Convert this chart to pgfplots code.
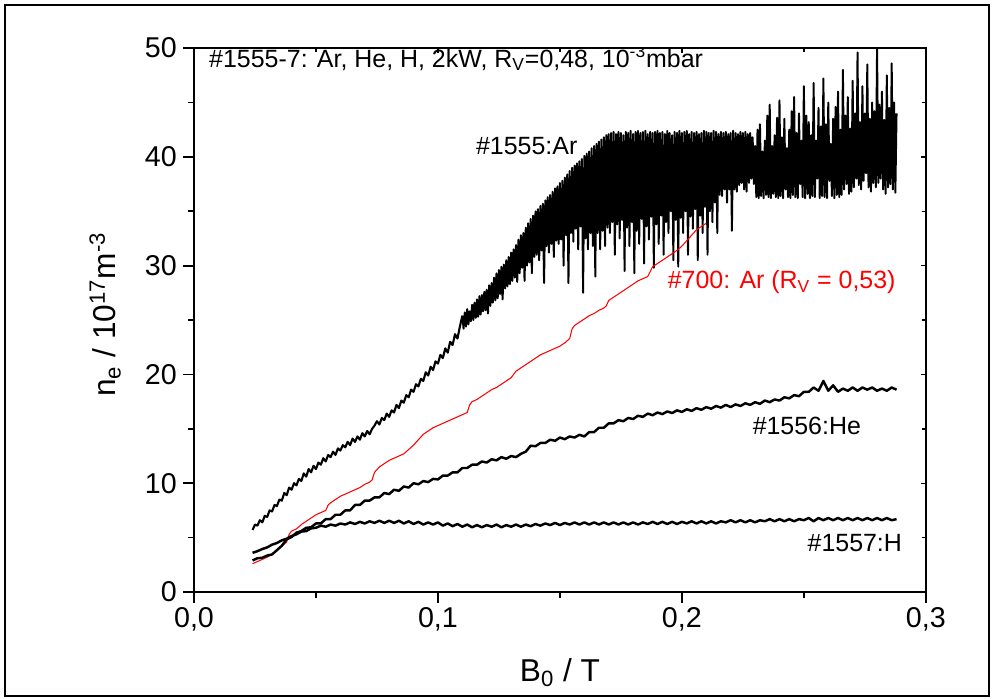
\documentclass[border=0pt]{standalone}
\usepackage{fontspec}
\setmainfont{Liberation Sans}
\usepackage{pgfplots}
\pgfplotsset{compat=1.18}
\usepackage{pgfplotstable}

\pgfplotstableread{
x y
0.024 5.7
0.025 6.2
0.026 6.1
0.027 6.6
0.028 6.4
0.029 7.0
0.030 6.9
0.031 7.5
0.032 7.4
0.033 8.0
0.034 7.9
0.035 8.5
0.036 8.4
0.037 9.1
0.038 8.9
0.039 9.6
0.040 9.4
0.041 10.0
0.042 9.8
0.043 10.4
0.044 10.2
0.045 10.9
0.046 10.6
0.047 11.3
0.048 11.0
0.049 11.6
0.050 11.3
0.051 11.9
0.052 11.7
0.053 12.3
0.054 12.0
0.055 12.6
0.056 12.4
0.057 12.9
0.058 12.6
0.059 13.2
0.060 13.0
0.061 13.5
0.062 13.3
0.063 13.8
0.064 13.5
0.065 14.1
0.066 13.8
0.067 14.3
0.068 14.0
0.069 14.6
0.070 14.3
0.071 14.8
0.072 14.5
0.073 15.0
0.074 15.3
0.075 15.7
0.076 15.4
0.077 16.0
0.078 15.8
0.079 16.4
0.080 16.1
0.081 16.7
0.082 16.5
0.083 17.2
0.084 16.9
0.085 17.6
0.086 17.4
0.087 18.1
0.088 17.9
0.089 18.6
0.090 18.4
0.091 19.1
0.092 18.9
0.093 19.6
0.094 19.4
0.095 20.2
0.096 19.9
0.097 20.7
0.098 20.4
0.099 21.2
0.100 21.0
0.101 21.8
0.102 21.5
0.103 22.4
0.104 22.0
0.105 23.0
0.106 22.7
0.107 23.7
0.108 23.3
0.109 24.4
0.1100 25.4
0.1105 24.2
0.1110 25.7
0.1115 24.4
0.1120 26.0
0.1125 24.6
0.1130 25.8
0.1135 24.9
0.1140 26.4
0.1145 25.0
0.1150 26.6
0.1155 25.2
0.1160 26.9
0.1165 25.3
0.1170 27.2
0.1175 25.5
0.1180 27.3
0.1185 25.8
0.1190 27.6
0.1195 25.9
0.1200 27.8
0.1205 25.6
0.1210 28.2
0.1215 26.3
0.1220 28.4
0.1225 26.6
0.1230 28.9
0.1235 26.8
0.1240 29.3
0.1245 27.0
0.1250 29.6
0.1255 27.4
0.1260 29.9
0.1265 26.9
0.1270 30.1
0.1275 27.9
0.1280 30.5
0.1285 28.1
0.1290 30.8
0.1295 28.3
0.1300 31.2
0.1305 28.6
0.1310 31.5
0.1315 28.9
0.1320 31.9
0.1325 28.5
0.1330 32.4
0.1335 29.3
0.1340 32.8
0.1345 29.8
0.1350 33.0
0.1355 28.6
0.1360 33.5
0.1365 30.0
0.1370 33.9
0.1375 30.3
0.1380 34.3
0.1385 29.3
0.1390 34.6
0.1395 30.8
0.1400 35.0
0.1405 31.0
0.1410 35.2
0.1415 30.5
0.1420 35.5
0.1425 31.4
0.1430 35.7
0.1435 28.4
0.1440 36.0
0.1445 31.8
0.1450 36.3
0.1455 31.2
0.1460 36.5
0.1465 32.0
0.1470 36.8
0.1475 30.8
0.1480 37.1
0.1485 32.3
0.1490 37.3
0.1495 32.0
0.1500 37.6
0.1505 32.4
0.1510 37.8
0.1515 30.0
0.1520 38.1
0.1525 32.8
0.1530 38.4
0.1535 28.4
0.1540 38.7
0.1545 33.0
0.1550 39.0
0.1555 32.2
0.1560 39.2
0.1565 33.4
0.1570 39.4
0.1575 31.5
0.1580 39.6
0.1585 33.6
0.1590 39.8
0.1595 27.5
0.1600 40.1
0.1605 32.5
0.1610 40.3
0.1615 31.5
0.1620 40.5
0.1625 33.0
0.1630 40.8
0.1635 31.8
0.1640 41.0
0.1645 29.0
0.1650 41.2
0.1655 33.0
0.1660 41.4
0.1665 31.5
0.1670 41.6
0.1675 33.2
0.1680 41.8
0.1685 31.8
0.1690 42.0
0.1695 33.5
0.1700 42.1
0.1705 33.0
0.1710 42.2
0.1715 34.0
0.1720 42.3
0.1725 31.0
0.1730 42.1
0.1735 33.8
0.1740 42.3
0.1745 32.5
0.1750 42.2
0.1755 34.2
0.1760 42.0
0.1765 29.5
0.1770 42.3
0.1775 33.5
0.1780 42.2
0.1785 31.8
0.1790 42.4
0.1795 34.0
0.1800 42.1
0.1805 29.3
0.1810 42.3
0.1815 33.2
0.1820 42.4
0.1825 32.0
0.1830 42.2
0.1835 34.3
0.1840 42.3
0.1845 30.2
0.1850 42.4
0.1855 33.6
0.1860 42.1
0.1865 32.4
0.1870 42.3
0.1875 34.5
0.1880 42.2
0.1885 29.8
0.1890 42.3
0.1895 33.8
0.1900 42.4
0.1905 32.0
0.1910 42.2
0.1915 34.6
0.1920 42.3
0.1925 31.0
0.1930 42.1
0.1935 34.0
0.1940 42.4
0.1945 33.0
0.1950 42.2
0.1955 35.0
0.1960 42.0
0.1965 30.5
0.1970 42.3
0.1975 34.2
0.1980 42.2
0.1985 29.9
0.1990 42.4
0.1995 34.4
0.2000 42.2
0.2005 33.0
0.2010 42.3
0.2015 35.0
0.2020 42.4
0.2025 31.0
0.2030 42.1
0.2035 34.5
0.2040 42.3
0.2045 33.4
0.2050 42.2
0.2055 35.2
0.2060 42.3
0.2065 30.5
0.2070 42.1
0.2075 34.6
0.2080 42.2
0.2085 33.0
0.2090 42.4
0.2095 35.4
0.2100 42.3
0.2105 31.0
0.2110 42.2
0.2115 35.0
0.2120 42.2
0.2125 34.0
0.2130 42.4
0.2135 35.8
0.2140 42.3
0.2145 33.0
0.2150 42.1
0.2155 36.5
0.2160 42.3
0.2165 36.4
0.2170 42.2
0.2175 37.0
0.2180 42.3
0.2185 35.8
0.2190 42.1
0.2195 37.0
0.2200 42.2
0.2205 33.2
0.2210 42.4
0.2215 37.0
0.2220 42.2
0.2225 36.8
0.2230 42.1
0.2235 37.4
0.2240 42.3
0.2245 37.6
0.2250 42.2
0.2255 37.0
0.2260 42.3
0.2265 36.8
0.2270 42.1
0.2275 37.6
0.2280 42.2
0.2285 38.0
0.2290 41.8
0.2295 37.5
0.2300 41.0
0.2305 36.3
0.2310 42.5
0.2315 36.2
0.2320 43.0
0.2325 36.4
0.2330 40.5
0.2335 36.2
0.2340 41.5
0.2345 36.5
0.2350 43.8
0.2355 36.3
0.2360 44.8
0.2365 36.2
0.2370 41.0
0.2375 36.6
0.2380 42.0
0.2385 36.3
0.2390 43.6
0.2395 36.2
0.2400 45.2
0.2405 36.4
0.2410 41.8
0.2415 36.2
0.2420 43.5
0.2425 37.0
0.2430 40.8
0.2435 36.3
0.2440 42.5
0.2445 36.2
0.2450 44.2
0.2455 36.5
0.2460 45.5
0.2465 36.3
0.2470 42.2
0.2475 36.2
0.2480 44.0
0.2485 37.5
0.2490 41.5
0.2495 36.3
0.2500 46.5
0.2505 36.2
0.2510 43.8
0.2515 36.6
0.2520 43.2
0.2525 36.2
0.2530 42.0
0.2535 36.4
0.2540 46.8
0.2545 36.3
0.2550 41.5
0.2555 38.0
0.2560 44.5
0.2565 36.2
0.2570 42.8
0.2575 36.4
0.2580 47.2
0.2585 36.3
0.2590 43.0
0.2595 36.2
0.2600 45.0
0.2605 37.8
0.2610 41.2
0.2615 36.4
0.2620 43.5
0.2625 36.2
0.2630 44.6
0.2635 36.5
0.2640 46.0
0.2645 36.3
0.2650 42.5
0.2655 36.5
0.2660 48.0
0.2665 37.0
0.2670 43.8
0.2675 37.5
0.2680 45.5
0.2685 36.6
0.2690 42.6
0.2695 36.8
0.2700 47.0
0.2705 37.2
0.2710 44.0
0.2715 38.0
0.2720 49.6
0.2725 37.4
0.2730 43.2
0.2735 37.0
0.2740 46.5
0.2745 37.8
0.2750 44.0
0.2755 38.5
0.2760 48.5
0.2765 37.2
0.2770 43.5
0.2775 36.8
0.2780 45.0
0.2785 37.6
0.2790 44.2
0.2795 37.2
0.2800 50.0
0.2805 37.6
0.2810 44.8
0.2815 38.0
0.2820 46.0
0.2825 37.0
0.2830 43.4
0.2835 36.6
0.2840 47.5
0.2845 37.2
0.2850 44.5
0.2855 37.5
0.2860 48.6
0.2865 37.0
0.2870 45.0
0.2875 36.7
0.2880 44.0
}\tabAr

\pgfplotstableread{
x y
0.024 2.6
0.026 2.8
0.028 3.0
0.030 3.2
0.032 3.5
0.034 3.8
0.036 4.2
0.038 4.6
0.039 5.3
0.040 5.6
0.042 5.8
0.044 6.2
0.046 6.5
0.048 6.8
0.050 7.1
0.052 7.3
0.054 7.5
0.055 8.0
0.056 8.2
0.058 8.5
0.060 8.8
0.062 9.0
0.064 9.2
0.066 9.4
0.068 9.6
0.070 9.9
0.072 10.1
0.073 10.3
0.074 11.0
0.076 11.5
0.078 11.8
0.080 12.1
0.082 12.3
0.084 12.5
0.086 12.7
0.088 13.1
0.090 13.5
0.092 14.0
0.094 14.5
0.096 14.8
0.098 15.1
0.100 15.3
0.102 15.5
0.104 15.7
0.106 15.9
0.108 16.1
0.110 16.3
0.112 16.5
0.113 17.2
0.114 17.5
0.116 17.7
0.118 18.0
0.120 18.3
0.122 18.6
0.124 18.8
0.126 19.1
0.128 19.4
0.130 19.7
0.132 20.3
0.134 20.6
0.136 20.9
0.138 21.2
0.140 21.5
0.142 21.8
0.144 22.0
0.146 22.2
0.148 22.4
0.150 22.6
0.152 22.9
0.154 23.3
0.155 24.2
0.156 24.5
0.158 24.8
0.160 25.1
0.162 25.4
0.164 25.6
0.166 25.9
0.168 26.1
0.169 26.3
0.170 26.8
0.172 27.1
0.174 27.4
0.176 27.7
0.178 28.0
0.180 28.3
0.182 28.6
0.184 28.8
0.186 29.0
0.188 29.9
0.190 30.2
0.192 30.5
0.194 30.8
0.196 31.1
0.198 31.4
0.200 31.8
0.202 32.3
0.204 32.8
0.206 33.3
0.208 33.6
0.210 33.9
}\tabRed

\pgfplotstableread{
x y
0.024 2.9
0.026 3.1
0.028 3.15
0.030 3.35
0.032 3.45
0.034 3.85
0.036 4.25
0.038 4.85
0.040 5.05
0.042 5.45
0.044 5.6
0.046 5.9
0.048 5.95
0.050 6.3
0.052 6.3
0.054 6.7
0.056 6.7
0.058 7.1
0.060 7.1
0.062 7.5
0.064 7.5
0.066 8.0
0.068 8.0
0.070 8.4
0.072 8.4
0.074 8.7
0.076 8.7
0.078 9.1
0.080 9.0
0.082 9.4
0.084 9.3
0.086 9.7
0.088 9.6
0.090 10.0
0.092 9.9
0.094 10.2
0.096 10.1
0.098 10.4
0.100 10.35
0.102 10.7
0.104 10.7
0.106 11.0
0.108 11.0
0.110 11.4
0.112 11.4
0.114 11.7
0.116 11.7
0.118 12.0
0.120 11.9
0.122 12.2
0.124 12.1
0.126 12.4
0.128 12.25
0.130 12.5
0.132 12.4
0.134 12.7
0.136 12.9
0.138 13.45
0.140 13.4
0.142 13.7
0.144 13.7
0.146 14.0
0.148 13.9
0.150 14.2
0.152 14.05
0.154 14.3
0.156 14.2
0.158 14.45
0.160 14.3
0.162 14.7
0.164 14.7
0.166 15.1
0.168 15.1
0.170 15.5
0.172 15.5
0.174 15.8
0.176 15.7
0.178 16.0
0.180 15.9
0.182 16.2
0.184 16.1
0.186 16.4
0.188 16.25
0.190 16.5
0.192 16.35
0.194 16.6
0.196 16.45
0.198 16.7
0.200 16.55
0.202 16.8
0.204 16.65
0.206 16.9
0.208 16.75
0.210 17.0
0.212 16.85
0.214 17.1
0.216 16.95
0.218 17.2
0.220 17.0
0.222 17.25
0.224 17.1
0.226 17.35
0.228 17.2
0.230 17.45
0.232 17.3
0.234 17.6
0.236 17.45
0.238 17.7
0.240 17.6
0.242 17.9
0.244 17.8
0.246 18.1
0.248 18.0
0.250 18.4
0.252 18.4
0.254 18.8
0.256 18.5
0.258 19.4
0.260 18.5
0.262 19.0
0.264 18.4
0.266 18.7
0.268 18.5
0.270 18.8
0.272 18.5
0.274 18.8
0.276 18.6
0.278 18.8
0.280 18.5
0.282 18.7
0.284 18.5
0.286 18.8
0.288 18.6
}\tabHe

\pgfplotstableread{
x y
0.024 3.6
0.026 3.75
0.028 3.95
0.030 4.1
0.032 4.35
0.034 4.5
0.036 4.75
0.038 4.9
0.040 5.15
0.042 5.3
0.044 5.55
0.046 5.6
0.048 5.85
0.050 5.9
0.052 6.1
0.054 6.0
0.056 6.2
0.058 6.1
0.060 6.3
0.062 6.2
0.064 6.4
0.066 6.25
0.068 6.45
0.070 6.3
0.072 6.5
0.074 6.35
0.076 6.55
0.078 6.35
0.080 6.55
0.082 6.35
0.084 6.55
0.086 6.3
0.088 6.5
0.090 6.25
0.092 6.45
0.094 6.2
0.096 6.4
0.098 6.2
0.100 6.4
0.102 6.1
0.104 6.3
0.106 6.05
0.108 6.25
0.110 6.0
0.112 6.2
0.114 5.95
0.116 6.15
0.118 5.95
0.120 6.15
0.122 6.0
0.124 6.2
0.126 5.95
0.128 6.15
0.130 6.0
0.132 6.2
0.134 6.0
0.136 6.2
0.138 6.05
0.140 6.25
0.142 6.1
0.144 6.3
0.146 6.15
0.148 6.35
0.150 6.15
0.152 6.35
0.154 6.2
0.156 6.4
0.158 6.2
0.160 6.4
0.162 6.2
0.164 6.4
0.166 6.2
0.168 6.4
0.170 6.2
0.172 6.4
0.174 6.2
0.176 6.4
0.178 6.2
0.180 6.4
0.182 6.2
0.184 6.4
0.186 6.25
0.188 6.45
0.190 6.25
0.192 6.45
0.194 6.25
0.196 6.45
0.198 6.25
0.200 6.45
0.202 6.3
0.204 6.5
0.206 6.3
0.208 6.5
0.210 6.3
0.212 6.5
0.214 6.3
0.216 6.5
0.218 6.4
0.220 6.6
0.222 6.4
0.224 6.6
0.226 6.4
0.228 6.6
0.230 6.4
0.232 6.6
0.234 6.5
0.236 6.7
0.238 6.5
0.240 6.7
0.242 6.5
0.244 6.7
0.246 6.5
0.248 6.7
0.250 6.6
0.252 6.8
0.254 6.5
0.256 6.8
0.258 6.6
0.260 6.8
0.262 6.6
0.264 6.8
0.266 6.6
0.268 6.8
0.270 6.6
0.272 6.8
0.274 6.6
0.276 6.8
0.278 6.6
0.280 6.8
0.282 6.6
0.284 6.8
0.286 6.6
0.288 6.7
}\tabH

\begin{document}
\begin{tikzpicture}[x=0.02cm,y=0.02cm]
\path[use as bounding box] (-194,-107) rectangle (798,592);
\draw[line width=1.4pt] (-189,-104) rectangle (795,587);
\begin{axis}[
  at={(0,0)}, anchor=south west, scale only axis,
  width=14.64cm, height=10.88cm,
  xmin=0, xmax=0.3, ymin=0, ymax=50,
  xtick={0,0.1,0.2,0.3}, minor xtick={0.05,0.15,0.25},
  ytick={0,10,20,30,40,50}, minor ytick={5,15,25,35,45},
  tick align=outside, xtick pos=left, ytick pos=left,
  major tick length=6.3pt, minor tick length=3.4pt,
  axis line style={line width=1pt},
  tick style={line width=1pt, black},
  /pgf/number format/assume math mode=true,
  xticklabel style={/pgf/number format/.cd, fixed, fixed zerofill, precision=1, use comma, /tikz/.cd, font=\fontsize{16.3}{19}\selectfont, yshift=1pt},
  yticklabel style={font=\fontsize{16.3}{19}\selectfont},
  xlabel={B\textsubscript{0} / T},
  ylabel={n\textsubscript{e} / 10\textsuperscript{17}m\textsuperscript{-3}},
  xlabel style={at={(axis description cs:0.5,-0.1654)}, anchor=base, font=\fontsize{18}{21}\selectfont},
  ylabel style={at={(axis description cs:-0.1066,0.51)}, anchor=base, font=\fontsize{18}{21}\selectfont},
  clip=true,
]
\addplot[black, line width=1.2pt, line join=round, restrict x to domain=0.02:0.1101] table {\tabAr};
\addplot[black, line width=1.1pt, line join=round, restrict x to domain=0.1099:0.29] table {\tabAr};
\addplot[red, line width=0.6pt] table {\tabRed};
\addplot[black, line width=1.4pt, line join=round] table {\tabHe};
\addplot[black, line width=1.4pt, line join=round] table {\tabH};
\node[anchor=base west, font=\fontsize{14.2}{17}\selectfont] at (axis cs:0.0037,48.25) {\#1555-7: Ar, He, H, 2kW, R\textsubscript{V}=0,48, 10\textsuperscript{-3}mbar};
\node[anchor=base west, font=\fontsize{14.2}{17}\selectfont] at (axis cs:0.1131,40.2) {\#1555:Ar};
\node[anchor=base west, font=\fontsize{14.2}{17}\selectfont, text=red] at (axis cs:0.1917,27.9) {\#700: Ar (R\textsubscript{V} = 0,53)};
\node[anchor=base west, font=\fontsize{14.2}{17}\selectfont] at (axis cs:0.2265,14.5) {\#1556:He};
\node[anchor=base west, font=\fontsize{14.2}{17}\selectfont] at (axis cs:0.249,3.7) {\#1557:H};
\end{axis}
\begin{axis}[
  at={(0,0)}, anchor=south west, scale only axis,
  width=14.64cm, height=10.88cm,
  xmin=0, xmax=0.3, ymin=0, ymax=50,
  xtick={0,0.1,0.2,0.3}, minor xtick={0.05,0.15,0.25},
  ytick={0,10,20,30,40,50}, minor ytick={5,15,25,35,45},
  tick align=inside, xtick pos=right, ytick pos=right,
  major tick length=3pt, minor tick length=2pt,
  axis line style={line width=1pt},
  tick style={line width=0.8pt, black},
  xticklabels={}, yticklabels={},
]
\end{axis}
\end{tikzpicture}
\end{document}
